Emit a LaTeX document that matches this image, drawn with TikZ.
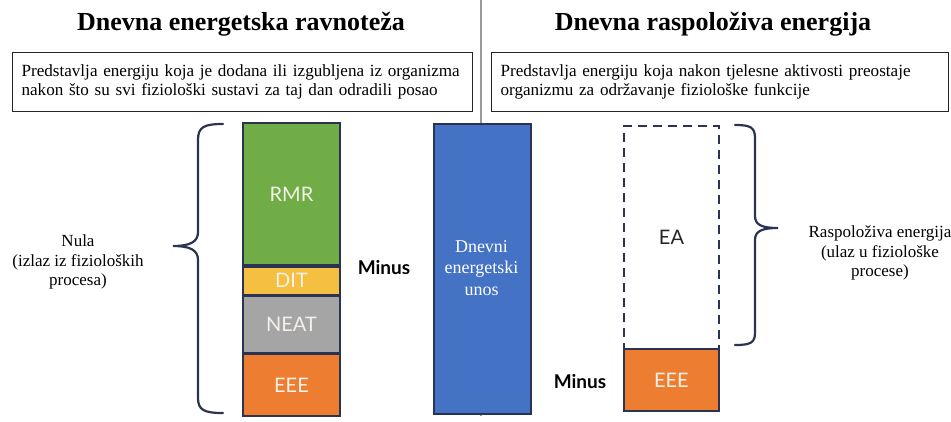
\documentclass[tikz,border=0pt]{standalone}
\usepackage{fontspec}
\setmainfont{Liberation Serif}
\newfontfamily\sansf{Lato}
\definecolor{navy}{HTML}{2A3452}
\definecolor{cgreen}{HTML}{70AD47}
\definecolor{cyellow}{HTML}{F5BF42}
\definecolor{cgray}{HTML}{A5A5A5}
\definecolor{corange}{HTML}{ED7D31}
\definecolor{cblue}{HTML}{4472C4}
\definecolor{lbl}{HTML}{F4F1EA}
\begin{document}
\begin{tikzpicture}[x=1pt,y=-1pt,
  title/.style={font=\fontsize{26}{30}\selectfont\bfseries, inner sep=0pt},
  descbox/.style={draw=black!85, line width=1.2pt, anchor=north west, minimum height=59pt,
     inner xsep=9pt, inner ysep=0pt, align=left, font=\fontsize{17.1}{19}\selectfont},
  seg/.style={draw=navy, line width=1.8pt, anchor=north, minimum width=97pt, inner sep=0pt,
     font=\sansf\fontsize{20}{24}\selectfont, text=lbl},
  brace/.style={draw=navy, line width=2.2pt, line cap=round},
  side/.style={align=center, font=\fontsize{17}{19.5}\selectfont},
  minus/.style={font=\sansf\bfseries\fontsize{19}{22}\selectfont}]
\useasboundingbox (0,0) rectangle (951,421);
% divider
\coordinate (dtop) at (481,0);
\coordinate (dbot) at (481,416);
\draw[gray!80, line width=1.2pt] (dtop) -- (dbot);
% titles
\node[title] (t1) at (241,24) {Dnevna energetska ravnoteža};
\node[title] (t2) at (713,24) {Dnevna raspoloživa energija};
% description boxes
\node[descbox, minimum width=460pt, text width=442pt] (b1) at (12,52)
  {Predstavlja energiju koja je dodana ili izgubljena iz organizma\\nakon što su svi fiziološki sustavi za taj dan odradili posao};
\node[descbox, minimum width=457pt, text width=439pt] (b2) at (491,52)
  {Predstavlja energiju koja nakon tjelesne aktivosti preostaje\\organizmu za održavanje fiziološke funkcije};
% left stack
\node[seg, fill=cgreen, minimum height=142pt] (rmr) at (291.5,122) {RMR};
\node[seg, fill=cyellow, minimum height=28pt] (dit) at (rmr.south) {DIT};
\node[seg, fill=cgray, minimum height=56pt] (neat) at (dit.south) {NEAT};
\node[seg, fill=corange, minimum height=62pt] (eee1) at (neat.south) {EEE};
% minus left
\node[minus] (m1) at (384,268) {Minus};
% blue bar
\node[draw=navy, line width=1.8pt, fill=cblue, anchor=north west, minimum width=97pt,
  minimum height=290pt, inner sep=0pt] (bar) at (433,123) {};
\node[text=white, align=center, font=\fontsize{18}{21.5}\selectfont] (bartxt) at (481.5,268)
  {Dnevni\\energetski\\unos};
% left brace
\coordinate (lb1) at (223,124);
\coordinate (lbtip) at (173,246);
\coordinate (lb2) at (223,413);
\draw[brace] (lb1) .. controls (204,124) and (198,127) .. (198,140) -- (198,232)
  .. controls (198,242) and (190,246) .. (lbtip)
  .. controls (190,246) and (198,250) .. (198,260) -- (198,398)
  .. controls (198,410) and (204,413) .. (lb2);
\node[side] (nula) at (78,262) {Nula\\(izlaz iz fizioloških\\procesa)};
% right side
\node[draw=navy, dashed, dash pattern=on 9pt off 6pt, line width=2pt, anchor=north west,
  minimum width=95pt, minimum height=223pt, inner sep=0pt,
  font=\sansf\fontsize{20}{24}\selectfont, text=black!85] (ea) at (623,125) {EA};
\node[seg, anchor=north west, minimum width=95pt, fill=corange, minimum height=62pt] (eee2) at (623,348) {EEE};
\node[minus] (m2) at (580,382) {Minus};
% right brace
\coordinate (rb1) at (735,125);
\coordinate (rbtip) at (778,228);
\coordinate (rb2) at (735,345);
\draw[brace] (rb1) .. controls (750,125) and (755,127) .. (755,138) -- (755,216)
  .. controls (755,225) and (762,228) .. (rbtip)
  .. controls (762,228) and (755,231) .. (755,240) -- (755,333)
  .. controls (755,343) and (750,345) .. (rb2);
\node[side] (rasp) at (880,253) {Raspoloživa energija\\(ulaz u fiziološke\\procese)};
\end{tikzpicture}
\end{document}
